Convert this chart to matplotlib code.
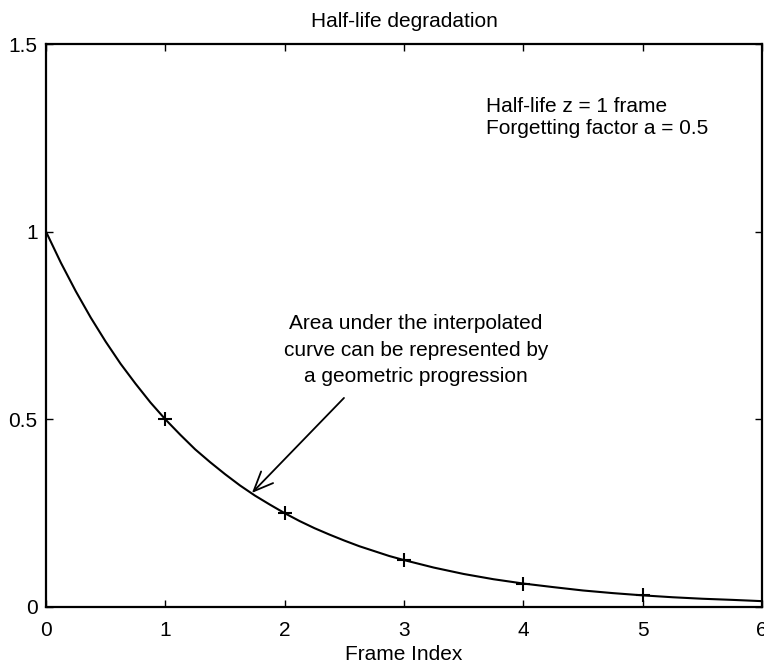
import numpy as np
import matplotlib
matplotlib.use("Agg")
import matplotlib.pyplot as plt

plt.rcParams['font.family'] = ['Liberation Sans', 'DejaVu Sans']

# Interpolated curve (finer steps where it bends most)
curve_x = [0, 0.125, 0.25, 0.375, 0.5, 0.625, 0.75, 0.875, 1, 1.125, 1.25,
           1.375, 1.5, 1.625, 1.75, 1.875, 2, 2.125, 2.25, 2.375, 2.5, 2.625,
           2.75, 2.875, 3, 3.25, 3.5, 3.75, 4, 4.25, 4.5, 4.75, 5, 5.25, 5.5,
           5.75, 6]
curve_y = [1.0, 0.917, 0.841, 0.771, 0.707, 0.648, 0.595, 0.545, 0.5, 0.459,
           0.420, 0.386, 0.354, 0.324, 0.297, 0.273, 0.25, 0.229, 0.210, 0.193,
           0.177, 0.162, 0.149, 0.136, 0.125, 0.105, 0.088, 0.074, 0.0625,
           0.053, 0.044, 0.037, 0.031, 0.026, 0.022, 0.019, 0.0156]

# Frame samples marked with '+'
frame_x = [1, 2, 3, 4, 5]
frame_y = [0.5, 0.25, 0.125, 0.0625, 0.03125]

x_ticks = [0, 1, 2, 3, 4, 5, 6]
y_ticks = [0, 0.5, 1, 1.5]
y_tick_labels = ['0', '0.5', '1', '1.5']

fig = plt.figure(figsize=(7.64, 6.66), dpi=100)
ax = fig.add_axes([46 / 764, 59 / 666, 716 / 764, 563 / 666])

ax.plot(curve_x, curve_y, color='black', linewidth=1.5)
ax.plot(frame_x, frame_y, linestyle='none', marker='+', color='black',
        markersize=10, markeredgewidth=1.5)

ax.set_xlim(0, 6)
ax.set_ylim(0, 1.5)
ax.set_xticks(x_ticks)
ax.set_yticks(y_ticks)
ax.set_yticklabels(y_tick_labels)
ax.tick_params(direction='in', length=5, width=1, top=True, right=True,
               labelsize=15, colors='black')
ax.tick_params(axis='x', pad=10)
ax.tick_params(axis='y', pad=6)
for s in ax.spines.values():
    s.set_linewidth(1.6)

ax.set_title('Half-life degradation', fontsize=15, pad=12)
ax.set_xlabel('Frame Index', fontsize=15, labelpad=4)

ax.text(3.687, 1.319, 'Half-life z = 1 frame', fontsize=15, va='baseline')
ax.text(3.687, 1.260, 'Forgetting factor a = 0.5', fontsize=15, va='baseline')

ax.text(3.10, 0.684,
        'Area under the interpolated\ncurve can be represented by\na geometric progression',
        fontsize=15, ha='center', va='center', linespacing=1.5)
ax.annotate('', xy=(1.726, 0.304), xytext=(2.497, 0.557),
            arrowprops=dict(arrowstyle='->,head_length=0.7,head_width=0.3',
                            color='black', linewidth=1.3, mutation_scale=20,
                            shrinkA=0, shrinkB=0))

fig.savefig('out.png', dpi=100)
